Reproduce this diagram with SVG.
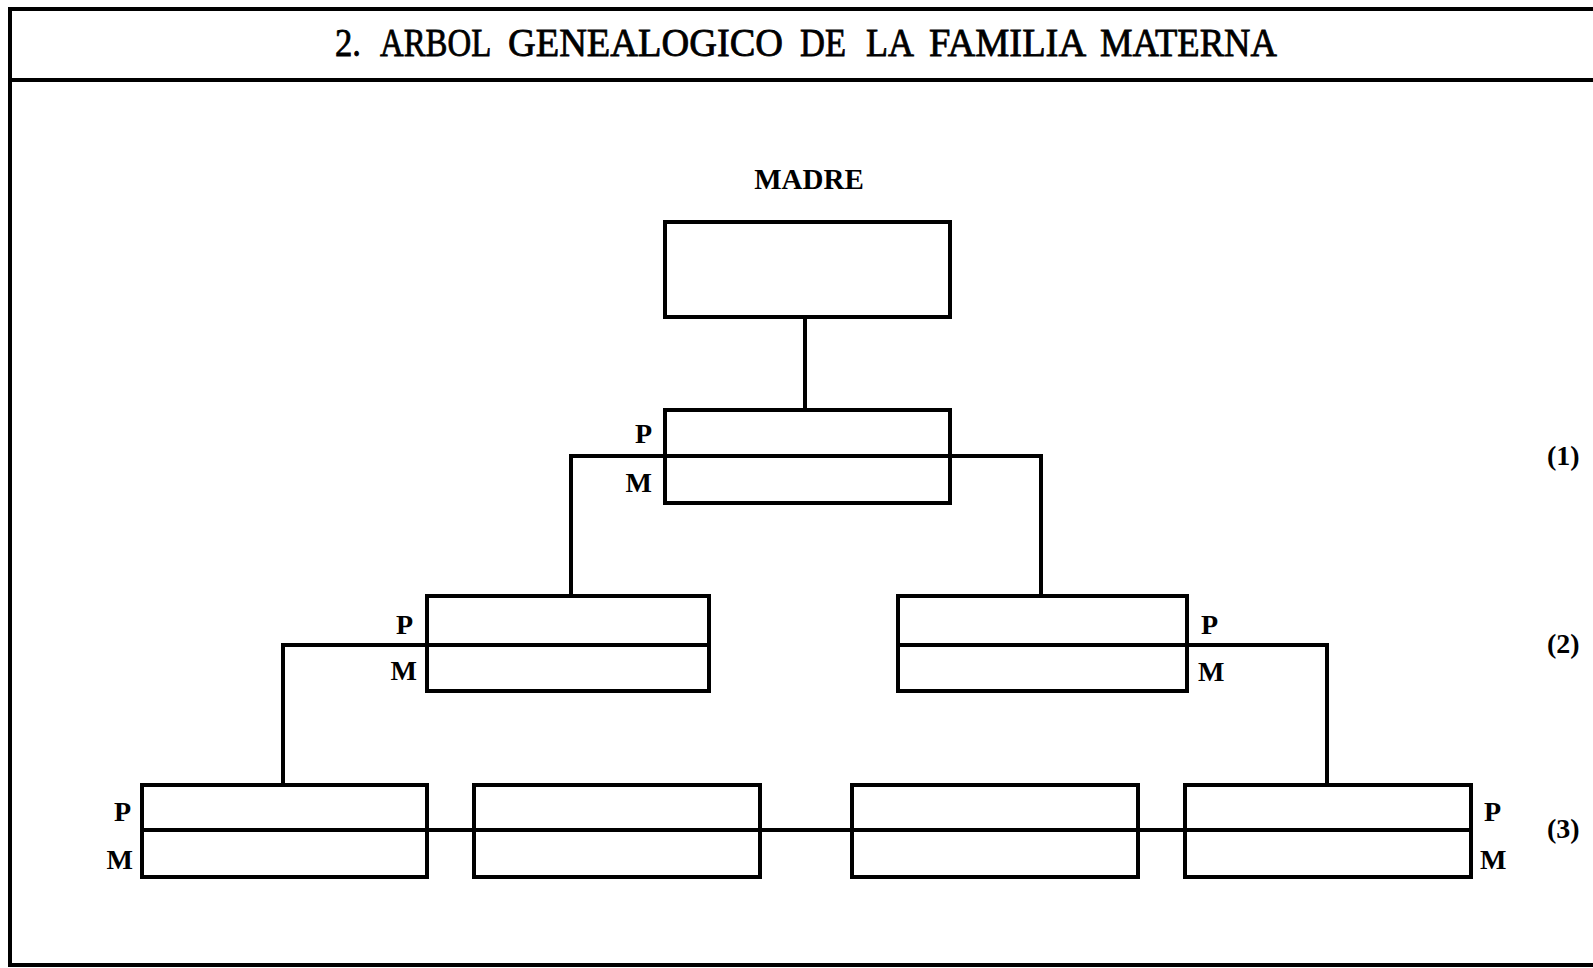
<svg xmlns="http://www.w3.org/2000/svg" width="1593" height="968" viewBox="0 0 1593 968">
<style>
.f{fill:none;stroke:#000;stroke-width:4}
.b{fill:#fff;stroke:#000;stroke-width:4}
.c{fill:none;stroke:#000;stroke-width:4}
.t{font-family:"Liberation Serif",serif;fill:#000}
.h{font-family:"Liberation Serif",serif;font-size:39px;fill:#000;stroke:#000;stroke-width:0.8}
.l{font-family:"Liberation Serif",serif;font-weight:bold;font-size:28px;fill:#000}
</style>
<rect width="1593" height="968" fill="#fff"/>
<g id="frame">
<path class="f" d="M1593 9 H10 V965 H1593 M10 80 H1593"/>
<text class="h" y="56"><tspan x="335" textLength="26" lengthAdjust="spacingAndGlyphs">2.</tspan> <tspan x="380" textLength="110" lengthAdjust="spacingAndGlyphs">ARBOL</tspan> <tspan x="508" textLength="275" lengthAdjust="spacingAndGlyphs">GENEALOGICO</tspan> <tspan x="800" textLength="46" lengthAdjust="spacingAndGlyphs">DE</tspan> <tspan x="866" textLength="46" lengthAdjust="spacingAndGlyphs">LA</tspan> <tspan x="929" textLength="155" lengthAdjust="spacingAndGlyphs">FAMILIA</tspan> <tspan x="1100" textLength="177" lengthAdjust="spacingAndGlyphs">MATERNA</tspan></text>
</g>
<g id="connectors">
<path class="c" d="M805 318 V410"/>
<path class="c" d="M571 596 V456 H1041 V596"/>
<path class="c" d="M283 785 V645 H427"/>
<path class="c" d="M1187 645 H1327 V785"/>
<path class="c" d="M142 830 H1471"/>
</g>
<g id="madre">
<text class="t" x="809" y="189" font-size="29" font-weight="bold" text-anchor="middle">MADRE</text>
<rect class="b" x="665" y="222" width="285" height="95"/>
</g>
<g id="gen1">
<rect class="f" x="665" y="410" width="285" height="93"/>
<line class="c" x1="571" y1="456" x2="1041" y2="456"/>
<text class="l" x="652" y="443" text-anchor="end">P</text>
<text class="l" x="652" y="492" text-anchor="end">M</text>
</g>
<g id="gen2-left">
<rect class="f" x="427" y="596" width="282" height="95"/>
<line class="c" x1="427" y1="645" x2="709" y2="645"/>
<text class="l" x="413" y="634" text-anchor="end">P</text>
<text class="l" x="417" y="680" text-anchor="end">M</text>
</g>
<g id="gen2-right">
<rect class="f" x="898" y="596" width="289" height="95"/>
<line class="c" x1="898" y1="645" x2="1187" y2="645"/>
<text class="l" x="1201" y="634">P</text>
<text class="l" x="1198" y="681">M</text>
</g>
<g id="gen3-a">
<rect class="f" x="142" y="785" width="285" height="92"/>
<text class="l" x="131" y="821" text-anchor="end">P</text>
<text class="l" x="133" y="869" text-anchor="end">M</text>
</g>
<g id="gen3-b">
<rect class="f" x="474" y="785" width="286" height="92"/>
</g>
<g id="gen3-c">
<rect class="f" x="852" y="785" width="286" height="92"/>
</g>
<g id="gen3-d">
<rect class="f" x="1185" y="785" width="286" height="92"/>
<text class="l" x="1484" y="821">P</text>
<text class="l" x="1480" y="869">M</text>
</g>
<g id="levels">
<text class="l" x="1547" y="465">(1)</text>
<text class="l" x="1547" y="653">(2)</text>
<text class="l" x="1547" y="838">(3)</text>
</g>
</svg>
